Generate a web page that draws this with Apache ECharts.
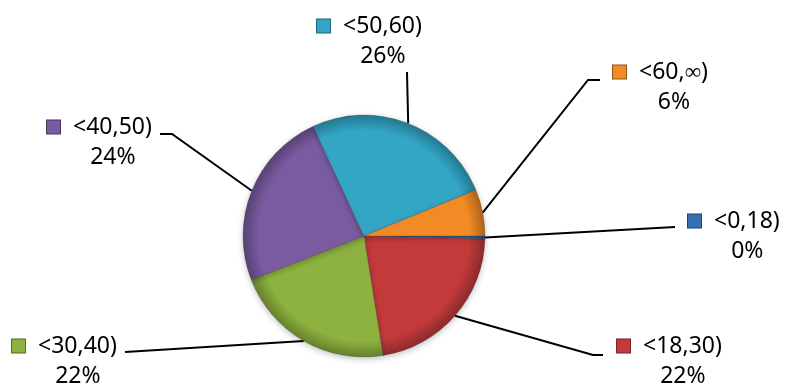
<!DOCTYPE html>
<html>
<head>
<meta charset="utf-8">
<script src="https://cdn.jsdelivr.net/npm/echarts@6/dist/echarts.min.js"></script>
<style>
  html, body { margin: 0; padding: 0; background: #fff; }
  #pie { width: 786px; height: 390px; }
</style>
</head>
<body>
<div id="pie"></div>
<script>
// age groups and their share
var categories = ['<0,18)', '<18,30)', '<30,40)', '<40,50)', '<50,60)', '<60,∞)'];
var shares = [0.4, 22.1, 21.6, 24.0, 25.7, 6.2];
var colors = ['#3570B6', '#C23A3A', '#8DB23F', '#7A5BA2', '#33A6C6', '#F28B25'];

// where each label box sits (left of the key square, top of first line)
var labelBox = [[688, 206], [617, 331], [12, 331], [47, 112], [317, 11], [613, 57]];
// leader line ends at the label side: [bend, end]
var lineEnds = [
  [[675, 227], [675, 227]],
  [[593, 355], [603, 355]],
  [[125, 352], [125, 352]],
  [[172, 134], [160, 134]],
  [[407, 72], [407, 72]],
  [[588, 80], [600, 80]]
];

var cx = 364, cy = 236, R = 121;

// scale rgb channels: k < 1 darker
function shade(hex, k) {
  var c = echarts.color.parse(hex);
  return 'rgb(' + [0, 1, 2].map(function (j) {
    return Math.max(0, Math.min(255, Math.round(c[j] * k)));
  }).join(',') + ')';
}

var myChart = echarts.init(document.getElementById('pie'));

var rich = {
  t: { fontSize: 23, lineHeight: 30, color: '#000', padding: [0, 0, 0, 13], align: 'center' },
  p: { fontSize: 23, lineHeight: 30, color: '#000', align: 'center' },
  pad: { width: 27, height: 10, align: 'center' }
};
colors.forEach(function (c, i) {
  rich['sq' + i] = {
    width: 13, height: 13, align: 'center',
    backgroundColor: c,
    borderColor: shade(c, 0.6),
    borderWidth: 1
  };
});

var pieData = categories.map(function (name, i) {
  var c = colors[i];
  return {
    name: name,
    value: shares[i],
    itemStyle: {
      color: new echarts.graphic.RadialGradient(cx, cy, R, [
        { offset: 0, color: c },
        { offset: 0.87, color: c },
        { offset: 1, color: shade(c, 0.72) }
      ], true)
    }
  };
});

var option = {
  animation: false,
  series: [
    {
      name: 'share',
      type: 'pie',
      center: [cx, cy],
      radius: R,
      startAngle: 0,
      clockwise: true,
      percentPrecision: 0,
      avoidLabelOverlap: false,
      data: pieData,
      itemStyle: {
        borderColor: 'rgba(40,40,40,0.35)',
        borderWidth: 0.6,
        shadowBlur: 6,
        shadowColor: 'rgba(0,0,0,0.25)',
        shadowOffsetY: 2
      },
      label: {
        show: true,
        position: 'outside',
        fontFamily: 'Noto Sans',
        formatter: function (p) {
          return '{sq' + p.dataIndex + '|}{t|' + p.name + '}\n{pad|}{p|' + p.percent + '%}';
        },
        rich: rich
      },
      labelLine: {
        show: true,
        lineStyle: { color: '#000', width: 2 }
      },
      emphasis: { disabled: true }
    }
  ]
};

option.series[0].labelLayout = function (params) {
  var i = params.dataIndex;
  var start = params.labelLinePoints ? params.labelLinePoints[0] : [cx, cy];
  return {
    x: labelBox[i][0],
    y: labelBox[i][1],
    align: 'left',
    verticalAlign: 'top',
    labelLinePoints: [start, lineEnds[i][0], lineEnds[i][1]]
  };
};

myChart.setOption(option);
</script>
</body>
</html>
